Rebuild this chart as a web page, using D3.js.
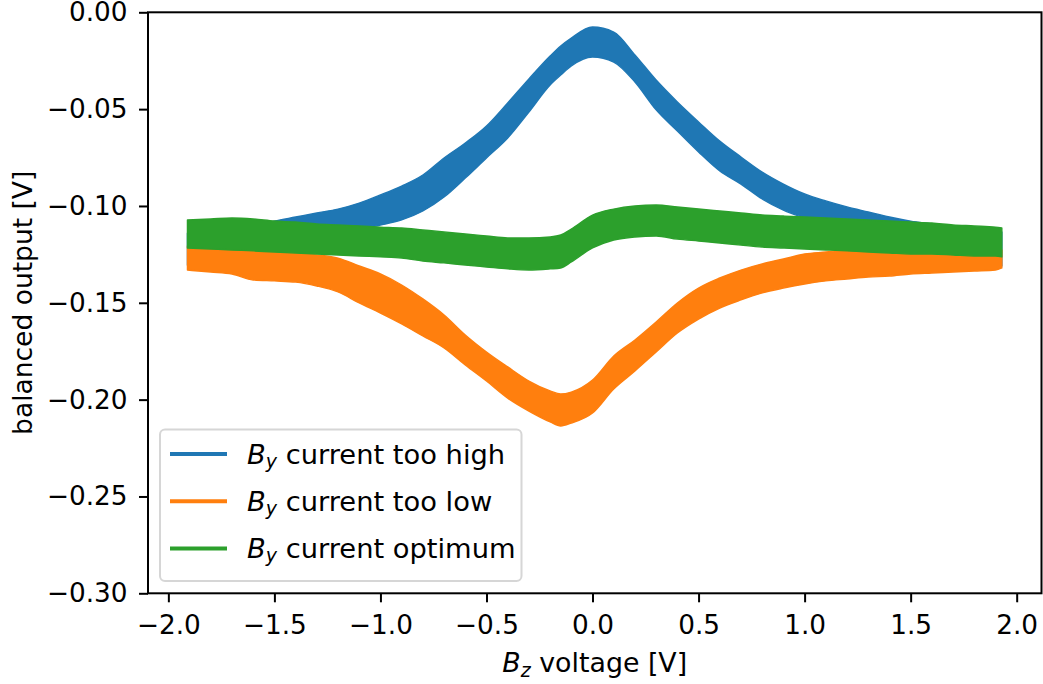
<!DOCTYPE html>
<meta charset="utf-8">
<style>
body { margin: 0; background: #fff; }
text { font-family: "DejaVu Sans", sans-serif; fill: #000; }
.tick text { font-size: 26.3px; }
.band { stroke-width: 1.4px; stroke-linejoin: round; }
</style>
<svg width="1043" height="684"></svg>
<script src="https://cdn.jsdelivr.net/npm/d3@7"></script>
<script>

// B_z voltage [V] sample points (band edges)
var xs = [-1.91, -1.8, -1.7, -1.6, -1.5, -1.4, -1.3, -1.2, -1.1, -1.0,
          -0.9, -0.8, -0.7, -0.6, -0.5, -0.4, -0.3, -0.2, -0.15, -0.1,
          0.0, 0.1, 0.2, 0.3, 0.4, 0.5, 0.6, 0.7, 0.8, 0.9,
          1.0, 1.1, 1.2, 1.3, 1.4, 1.5, 1.6, 1.7, 1.8, 1.9, 1.93];

// B_y current too high: upper / lower edge of the noisy trace
var highTop = [-0.1140, -0.1124, -0.1109, -0.1093, -0.1078, -0.1057, -0.1036, -0.1016, -0.0985, -0.0943,
               -0.0897, -0.0840, -0.0752, -0.0675, -0.0587, -0.0468, -0.0344, -0.0226, -0.0174, -0.0133,
               -0.0076, -0.0102, -0.0220, -0.0350, -0.0463, -0.0566, -0.0665, -0.0747, -0.0825, -0.0887,
               -0.0938, -0.0974, -0.1005, -0.1031, -0.1057, -0.1078, -0.1093, -0.1109, -0.1124, -0.1134, -0.1134];
var highBot = [-0.1305, -0.1279, -0.1248, -0.1227, -0.1207, -0.1186, -0.1165, -0.1145, -0.1119, -0.1098,
               -0.1072, -0.1026, -0.0954, -0.0856, -0.0752, -0.0649, -0.0515, -0.0375, -0.0324, -0.0277,
               -0.0231, -0.0257, -0.0360, -0.0504, -0.0613, -0.0721, -0.0819, -0.0887, -0.0964, -0.1021,
               -0.1062, -0.1098, -0.1129, -0.1160, -0.1186, -0.1207, -0.1227, -0.1248, -0.1269, -0.1299, -0.1310];

// B_y current too low
var lowTop = [-0.1207, -0.1222, -0.1227, -0.1232, -0.1238, -0.1243, -0.1253, -0.1269, -0.1310, -0.1351,
              -0.1408, -0.1480, -0.1563, -0.1666, -0.1754, -0.1831, -0.1904, -0.1955, -0.1971, -0.1961,
              -0.1899, -0.1775, -0.1692, -0.1599, -0.1501, -0.1424, -0.1372, -0.1331, -0.1299, -0.1274,
              -0.1248, -0.1238, -0.1227, -0.1227, -0.1232, -0.1238, -0.1243, -0.1248, -0.1248, -0.1253, -0.1227];
var lowBot = [-0.1331, -0.1341, -0.1351, -0.1382, -0.1387, -0.1393, -0.1413, -0.1444, -0.1501, -0.1553,
              -0.1609, -0.1671, -0.1733, -0.1821, -0.1904, -0.1992, -0.2059, -0.2115, -0.2136, -0.2121,
              -0.2069, -0.1945, -0.1852, -0.1754, -0.1656, -0.1584, -0.1527, -0.1485, -0.1449, -0.1424,
              -0.1403, -0.1387, -0.1377, -0.1367, -0.1362, -0.1351, -0.1346, -0.1341, -0.1336, -0.1331, -0.1320];

// B_y current optimum
var optTop = [-0.1072, -0.1067, -0.1062, -0.1067, -0.1078, -0.1083, -0.1093, -0.1098, -0.1103, -0.1109,
              -0.1114, -0.1124, -0.1134, -0.1145, -0.1155, -0.1165, -0.1165, -0.1160, -0.1150, -0.1119,
              -0.1047, -0.1016, -0.1000, -0.0995, -0.1005, -0.1016, -0.1026, -0.1036, -0.1047, -0.1052,
              -0.1057, -0.1062, -0.1067, -0.1072, -0.1078, -0.1083, -0.1088, -0.1098, -0.1103, -0.1109, -0.1114];
var optBot = [-0.1217, -0.1222, -0.1227, -0.1232, -0.1238, -0.1243, -0.1248, -0.1253, -0.1258, -0.1263,
              -0.1269, -0.1284, -0.1294, -0.1305, -0.1315, -0.1325, -0.1331, -0.1325, -0.1320, -0.1289,
              -0.1217, -0.1176, -0.1160, -0.1155, -0.1171, -0.1181, -0.1191, -0.1202, -0.1212, -0.1217,
              -0.1222, -0.1227, -0.1232, -0.1238, -0.1243, -0.1248, -0.1248, -0.1253, -0.1258, -0.1258, -0.1263];

var seriesNames = ["current too high", "current too low", "current optimum"];
var seriesColors = ["#1f77b4", "#ff7f0e", "#2ca02c"];
var xTicks = [-2.0, -1.5, -1.0, -0.5, 0.0, 0.5, 1.0, 1.5, 2.0];
var yTicks = [0.00, -0.05, -0.10, -0.15, -0.20, -0.25, -0.30];

var svg = d3.select("svg"),
    plotL = 148, plotR = 1041.5, plotT = 12.3, plotB = 593.3;

var x = d3.scaleLinear().domain([-2.096, 2.117]).range([plotL, plotR]);
var y = d3.scaleLinear().domain([-0.30, 0.00]).range([plotB, plotT]);

var bands = [[highTop, highBot], [lowTop, lowBot], [optTop, optBot]];

var area = d3.area()
    .x(function(d) { return x(d.x); })
    .y0(function(d) { return y(d.lo); })
    .y1(function(d) { return y(d.hi); })
    .curve(d3.curveMonotoneX);

bands.forEach(function(b, i) {
  var rows = xs.map(function(v, j) { return {x: v, hi: b[0][j], lo: b[1][j]}; });
  svg.append("path")
      .attr("class", "band")
      .attr("d", area(rows))
      .style("fill", seriesColors[i])
      .style("stroke", seriesColors[i]);
});

// axes
var xAxis = svg.append("g")
    .attr("transform", "translate(0," + plotB + ")")
    .call(d3.axisBottom(x).tickValues(xTicks).tickFormat(d3.format(".1f")).tickSize(9).tickPadding(13));
var yAxis = svg.append("g")
    .attr("transform", "translate(" + plotL + ",0)")
    .call(d3.axisLeft(y).tickValues(yTicks).tickFormat(d3.format(".2f")).tickSize(9).tickPadding(11.5));

[xAxis, yAxis].forEach(function(a) {
  a.select(".domain").remove();
  a.selectAll(".tick line").style("stroke", "#000").style("stroke-width", 2);
  a.selectAll(".tick text").style("font-family", '"DejaVu Sans", sans-serif');
});

svg.append("rect")
    .attr("x", plotL).attr("y", plotT)
    .attr("width", plotR - plotL).attr("height", plotB - plotT)
    .style("fill", "none").style("stroke", "#000").style("stroke-width", 2);

// axis labels
var xl = svg.append("text")
    .attr("x", (plotL + plotR) / 2).attr("y", 672)
    .attr("text-anchor", "middle")
    .style("font-size", "26.8px");
xl.append("tspan").style("font-style", "italic").text("B");
xl.append("tspan").style("font-style", "italic").style("font-size", "19px").attr("dy", 5).text("z");
xl.append("tspan").attr("dy", -5).text(" voltage [V]");

svg.append("text")
    .attr("transform", "translate(32," + (plotT + plotB) / 2 + ") rotate(-90)")
    .attr("text-anchor", "middle")
    .style("font-size", "26.5px")
    .text("balanced output [V]");

// legend
var lg = svg.append("g");
lg.append("rect")
    .attr("x", 160).attr("y", 429.5)
    .attr("width", 361.5).attr("height", 151.5)
    .attr("rx", 5)
    .style("fill", "#fff").style("fill-opacity", 0.8)
    .style("stroke", "#d6d6d6").style("stroke-width", 2);

seriesNames.forEach(function(name, i) {
  var cy = 454 + i * 47.3;
  lg.append("line")
      .attr("x1", 170).attr("x2", 227)
      .attr("y1", cy).attr("y2", cy)
      .style("stroke", seriesColors[i]).style("stroke-width", 4);
  var t = lg.append("text")
      .attr("x", 247).attr("y", cy + 9.5)
      .style("font-size", "27.3px");
  t.append("tspan").style("font-style", "italic").text("B");
  t.append("tspan").style("font-style", "italic").style("font-size", "19px").attr("dy", 4).text("y");
  t.append("tspan").attr("dy", -4).text(" " + name);
});

</script>
